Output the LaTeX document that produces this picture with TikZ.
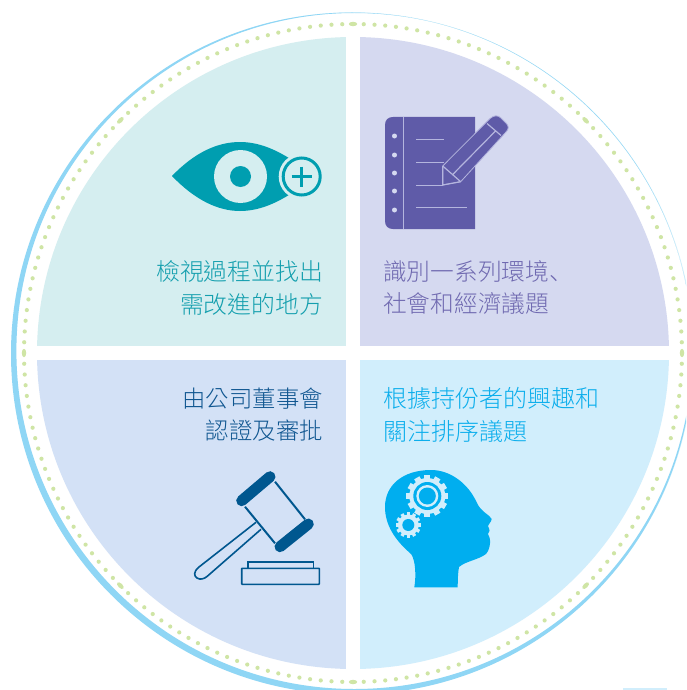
\documentclass[tikz,border=0pt]{standalone}
\usepackage{fontspec}
\setmainfont{Noto Sans CJK TC}[UprightFont=* Light]
\newfontfamily\jpfont{Noto Sans CJK JP}[UprightFont=* Light]
\definecolor{qa}{HTML}{D5EEF0}
\definecolor{qb}{HTML}{D5D9F0}
\definecolor{qc}{HTML}{D3E1F6}
\definecolor{qd}{HTML}{D1EEFC}
\definecolor{ta}{HTML}{149FAE}
\definecolor{tb}{HTML}{6F69B0}
\definecolor{tc}{HTML}{0F5690}
\definecolor{td}{HTML}{0CAEEC}
\definecolor{eyec}{HTML}{009EB0}
\definecolor{nb}{HTML}{5F5BA8}
\definecolor{nbl}{HTML}{B4B5DE}
\definecolor{gav}{HTML}{00578F}
\definecolor{brain}{HTML}{00AEEF}
\definecolor{ringc}{HTML}{8FD6F5}
\definecolor{dotc}{HTML}{CFE5A5}
\tikzset{
  x=1pt,y=-1pt,
  label/.style 2 args={inner sep=0pt,font=\fontsize{#2pt}{33pt}\selectfont,align=#1},
  rail/.style={line width=2pt,draw=gav},
  bar/.style={line width=11pt,draw=gav,line cap=round},
  pagel/.style={line width=1pt,draw=nbl}
}
\begin{document}
\begin{tikzpicture}
\useasboundingbox (0,0) rectangle (686,690);
\clip (0,0) rectangle (686,690);
\fill[white] (0,0) rectangle (686,690);
% outer ring (crescent: hairline upper right, thicker lower left)
\draw[ringc!45,line width=0.4pt] (352.9,353) circle[radius=340.4];
\fill[ringc,even odd rule] (352,353.5) circle[radius=341] (354.4,351) circle[radius=338];
% faint fragment at the bottom edge
\fill[qd] (623,687.5) rectangle (667,690);
% dotted ring
\foreach \n in {0,...,191} {
  \pgfmathsetmacro{\aa}{\n*1.875}
  \pgfmathtruncatemacro{\seam}{mod(\n,24)==0 ? 1 : 0}
  \ifnum\seam=1
    \fill[dotc,shift={(353,353)},rotate=\aa] (329,0) ellipse[x radius=2.2,y radius=4.2];
  \else
    \fill[dotc,shift={(353,353)}] (\aa:329) circle[radius=2.1];
  \fi
}
% quadrants
\begin{scope}
\clip (353,353) circle[radius=316];
\fill[qa] (0,0) rectangle (346,346);
\fill[qb] (360,0) rectangle (686,346);
\fill[qc] (0,360) rectangle (346,690);
\fill[qd] (360,360) rectangle (686,690);
\end{scope}
% texts
\node[label={right}{23.8},anchor=east] (ta1) at (323,271) {\textcolor{ta}{檢視過程並找出}};
\node[label={right}{23.8},anchor=east] (ta2) at (323,304) {\textcolor{ta}{需改進的地方}};
\node[label={left}{23.7},anchor=west] (tb1) at (383,271) {\textcolor{tb}{識別一系列環境{\jpfont 、}}};
\node[label={left}{23.7},anchor=west] (tb2) at (383,304) {\textcolor{tb}{社會和經濟議題}};
\node[label={right}{23.4},anchor=east] (tc1) at (323,399) {\textcolor{tc}{由公司董事會}};
\node[label={right}{23.4},anchor=east] (tc2) at (323,431) {\textcolor{tc}{認證及審批}};
\node[label={left}{24},anchor=west] (td1) at (383,398) {\textcolor{td}{根據持份者的興趣和}};
\node[label={left}{24},anchor=west] (td2) at (383,431) {\textcolor{td}{關注排序議題}};
% eye
\fill[eyec] (172,176) .. controls (195,152) and (218,142) .. (240,142) .. controls (258,142) and (275,149) .. (292,160) -- (292,193) .. controls (275,204) and (258,211) .. (240,211) .. controls (218,211) and (195,200) .. (172,176) -- cycle;
\fill[qa] (240.5,176.5) circle[radius=26.5];
\fill[eyec] (240.5,176.5) circle[radius=10.5];
\fill[qa] (301.7,176.5) circle[radius=23];
\draw[eyec,line width=3pt] (301.7,176.5) circle[radius=18.5];
\draw[eyec,line width=3pt] (291.7,176.5) -- (311.7,176.5) (301.7,166.5) -- (301.7,186.5);
% notebook
\fill[nb] (393,117) -- (475,117) -- (475,229) -- (393,229) .. controls (388,229) and (385,226) .. (385,221) -- (385,125) .. controls (385,120) and (388,117) .. (393,117) -- cycle;
\draw[pagel] (403,117) -- (403,229);
\foreach \yy in {136,155,173,191,210} \fill[qb] (394.5,\yy) circle[radius=2.5];
\draw[pagel] (416,139.5) -- (444,139.5) (416,162) -- (444,162) (416,185) -- (443,185) (416,207.5) -- (467,207.5);
\fill[nb,draw=nbl,line width=0.8pt,line join=round] (442.7,185) -- (442.7,166) -- (487,121.5) -- (490,118.5) .. controls (494,115) and (498,115) .. (501,118) -- (506,123) .. controls (509,126) and (509,129) .. (506,132) -- (460.7,181.7) -- cycle;
\draw[nbl,line width=1.2pt] (442.7,166) -- (460.7,181.7) (452.7,174.5) -- (496,130.5) (487,123.5) -- (501,135.5);
\draw[nbl,line width=1.2pt] (442.7,185) -- (442.7,166) (442.7,185) -- (460.7,181.7);
% gavel
\draw[gav,line width=1.6pt,fill=qc,line join=round] (256,522.3) -- (199,567) .. controls (193,572) and (194,576) .. (197,578) .. controls (200,580) and (204,579) .. (207,576.5) -- (261,529.3);
\fill[qc] (245,506.7) -- (275,481.7) -- (305,519.3) -- (275,543.3) -- cycle;
\draw[rail] (245,506.7) -- (275,543.3) (275,481.7) -- (305,519.3);
\draw[bar] (241.7,500.7) -- (270,476.7);
\draw[bar] (280,546.7) -- (308.3,524);
\draw[gav,line width=1.6pt] (247.7,568.3) -- (247.7,561.7) -- (313.3,561.7) -- (313.3,568.3);
\draw[gav,line width=1.6pt,rounded corners=0.5pt] (241.7,568.3) rectangle (319.3,584.3);
% head
\fill[brain] (414.3,587.3) .. controls (417,570) and (414,556) .. (410,553) .. controls (395,540) and (385,525) .. (385,507) .. controls (385,485) and (403,470) .. (431,470) .. controls (450,470) and (468,483) .. (477,503) .. controls (481,512) and (490,515) .. (491.7,519) .. controls (491,523) and (488,524) .. (488,526) .. controls (490,530) and (490,532) .. (488,534) .. controls (491,538) and (491,548) .. (486,554) .. controls (478,560) and (466,561) .. (459,567) .. controls (458,572) and (457.7,580) .. (457.7,587.3) -- cycle;
\foreach \a in {0,30,...,330} \fill[qd,rotate around={\a:(427.3,496)}] (424.3,475) rectangle (430.3,482);
\fill[qd] (427.3,496) circle[radius=18];
\fill[brain] (427.3,496) circle[radius=14];
\fill[qd] (427.3,496) circle[radius=11];
\fill[brain] (427.3,496) circle[radius=8.5];
\foreach \a in {0,30,...,330} \fill[qd,rotate around={\a:(408.3,525)}] (406.6,512.3) rectangle (410,517);
\fill[qd] (408.3,525) circle[radius=10.5];
\fill[brain] (408.3,525) circle[radius=6];
\end{tikzpicture}
\end{document}
